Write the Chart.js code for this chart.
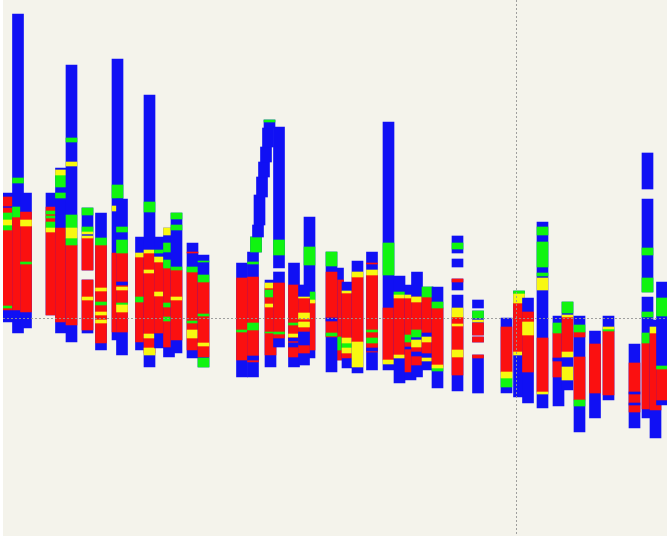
<!DOCTYPE html>
<html>
<head>
<meta charset="utf-8">
<script src="https://cdn.jsdelivr.net/npm/chart.js@4/dist/chart.umd.min.js"></script>
<style>
  html, body { margin: 0; padding: 0; background: #ffffff; }
  #wrap { position: absolute; left: 3px; top: 0; width: 664px; height: 536px; background: #f4f3eb; }
</style>
</head>
<body>
<div id="wrap"><canvas id="logChart"></canvas></div>
<script>
// column positions along the transect, in drawing order
const columnX = [8, 18, 26, 51.5, 61, 71.5, 87.5, 101, 117.5, 122, 141, 149.5, 160, 169, 176.5,
  192.5, 203.5, 242, 253, 256, 258, 259.5, 262, 264, 266, 268, 269.5, 270.5, 279, 294, 309.5,
  304, 338, 331.5, 347.5, 357.5, 372, 388.5, 399.5, 410.5, 417, 427.5, 437.5, 457.5, 478, 506.5,
  519, 528, 542.5, 558.5, 567.5, 579.5, 595, 608.5, 634.5, 647.5, 655.5, 662];

// [position, top depth, bottom depth]
const blueSpans = [
  [8,193,322],[18,14,333],[26,193,328],[51.5,193,315],[61,168,333],[71.5,65,342],
  [87.5,208,270],[87.5,280,333],[101,213,350],[117.5,59,340],[122,199,355],[141,237,350],
  [149.5,95,367],[160,237,348],[169,228,357],[176.5,213,353],[192.5,243,358],[203.5,255,367],
  [242,263,377],[253,252,377],[256,237,252],[258,225,237],[259.5,195,225],[262,177,197],
  [264,162,177],[266,147,162],[268,128,147],[269.5,120,128],[270.5,280,367],[279,127,268],
  [279,272,347],[294,263,367],[309.5,217,358],[304,285,365],[338,268,360],[331.5,252,372],
  [347.5,282,368],[357.5,261,373],[372,252,370],[388.5,122,370],[399.5,276,383],[410.5,285,380],
  [417,272,377],[427.5,287,370],[437.5,287,388],[457.5,236,253],[457.5,259,267],[457.5,279,290],
  [457.5,295,391],[478,300,308],[478,311,335],[478,337,342],[478,355,393],[506.5,318,393],
  [519,291,397],[528,298,403],[542.5,222,408],[558.5,316,406],[567.5,302,390],[579.5,316,432],
  [595,331,418],[608.5,316,400],[634.5,344,428],[647.5,153,189],[647.5,199,292],[647.5,297,418],
  [655.5,320,438],[662,282,405]
];

const redSpans = [
  [8,197,206],[8,208,310],[18,217,310],[26,212,312],[51.5,207,315],[61,228,322],[71.5,245,325],
  [87.5,238,270],[87.5,280,330],[101,245,343],[117.5,253,332],[122,253,332],[141,257,342],
  [149.5,253,353],[160,262,333],[169,268,347],[176.5,270,340],[192.5,252,253],[192.5,272,350],
  [203.5,282,357],[242,278,360],[253,277,362],[270.5,288,355],[279,283,338],[294,285,357],
  [309.5,303,350],[304,298,353],[338,280,360],[331.5,272,337],[347.5,293,358],[357.5,277,342],
  [372,263,264],[372,275,352],[388.5,308,360],[399.5,298,355],[410.5,298,372],[417,297,365],
  [427.5,297,353],[437.5,308,367],[457.5,279,282],[457.5,317,375],[478,323,335],[478,337,342],
  [478,355,358],[506.5,327,372],[519,303,352],[528,312,372],[542.5,338,392],[558.5,333,377],
  [567.5,317,352],[579.5,332,337],[579.5,357,400],[595,344,393],[608.5,331,395],[634.5,363,412],
  [647.5,343,409],[655.5,333,410],[662,369,400]
];

const blueBands = [
  [122,282,285],[253,356,360],[294,338,341],[294,343,347],[304,332,345],[331.5,318,321],
  [372,348,351],[410.5,347,349],[417,337,340],[417,352,356],[427.5,333,337],[558.5,358,361],
  [634.5,392,394],[634.5,403,405]
];

const greenBands = [
  [8,213,220],[8,224,230],[8,306,308],[18,178,183],[18,207,217],[26,262,264],[51.5,211,214],
  [51.5,216,218],[51.5,222,228],[61,175,187],[61,193,198],[71.5,138,142],[71.5,215,228],
  [71.5,238,245],[87.5,208,215],[87.5,227,232],[101,238,245],[101,302,305],[117.5,185,198],
  [122,227,232],[122,240,253],[122,303,305],[141,297,302],[149.5,202,212],[160,250,253],
  [169,243,252],[169,260,268],[169,303,307],[169,317,321],[176.5,213,219],[176.5,225,230],
  [176.5,267,270],[192.5,267,272],[192.5,321,323],[203.5,261,262],[203.5,275,282],[203.5,314,316],
  [203.5,358,367],[242,330,332],[253,262,264],[253,323,330],[256,237,252],[269.5,120,122],
  [270.5,290,297],[270.5,332,333],[279,240,255],[279,332,334],[294,323,325],[309.5,247,265],
  [309.5,292,300],[338,337,350],[331.5,252,266],[331.5,333,336],[347.5,343,348],[372,330,332],
  [372,338,343],[388.5,243,275],[399.5,292,295],[410.5,335,342],[417,330,337],[427.5,287,297],
  [437.5,302,308],[437.5,368,371],[457.5,243,249],[478,311,318],[506.5,378,387],[519,291,294],
  [542.5,227,235],[542.5,242,267],[542.5,273,276],[558.5,323,333],[567.5,302,313],[579.5,325,332],
  [579.5,400,406],[608.5,329,331],[647.5,248,255],[647.5,278,292],[647.5,312,317],[647.5,333,343],
  [662,298,316],[662,366,369]
];

const yellowBands = [
  [8,220,225],[26,220,226],[51.5,228,232],[61,170,175],[71.5,162,166],[71.5,228,238],
  [87.5,232,234],[87.5,236,238],[87.5,297,300],[101,288,291],[101,312,315],[101,320,323],
  [117.5,206,211],[122,287,290],[122,305,312],[141,253,257],[149.5,250,253],[149.5,270,273],
  [149.5,334,338],[149.5,348,355],[160,257,262],[160,292,296],[169,228,235],[176.5,297,300],
  [192.5,330,338],[203.5,343,346],[270.5,283,288],[270.5,304,307],[294,334,337],[304,297,298],
  [304,313,319],[304,322,327],[309.5,300,303],[347.5,291,293],[347.5,338,343],[347.5,348,353],
  [357.5,272,277],[357.5,342,367],[372,270,275],[388.5,360,364],[399.5,295,298],[399.5,355,358],
  [410.5,295,298],[417,297,302],[417,340,347],[427.5,337,342],[427.5,358,361],[437.5,365,368],
  [457.5,308,317],[457.5,324,326],[457.5,350,357],[478,320,322],[506.5,372,378],[519,294,303],
  [519,352,355],[528,322,335],[542.5,278,290],[542.5,392,394],[567.5,315,317],[567.5,352,357],
  [567.5,367,380],[608.5,327,329],[655.5,327,333]
];

// dotted reference lines
const refDepth = 318.5;
const refPos = 516.5;

const BLUE = "#1010f4";
const RED = "#fb1010";
const GREEN = "#10f410";
const YELLOW = "#f8f810";
const GUIDE = "rgba(150,150,150,0.9)";

const layers = [
  [blueSpans, BLUE],
  [redSpans, RED],
  [blueBands, BLUE],
  [greenBands, GREEN],
  [yellowBands, YELLOW],
];

const columnSets = columnX.map((x, i) => {
  const segs = [];
  layers.forEach(([list, color]) => {
    list.filter((s) => s[0] === x).forEach((s) => segs.push({ y: [s[1], s[2]], color }));
  });
  return {
    type: "bar",
    data: segs.map((s) => ({ x: x, y: s.y })),
    backgroundColor: segs.map((s) => s.color),
    order: columnX.length - i + 1,
  };
});

const guideStyle = {
  type: "line",
  borderColor: GUIDE,
  borderWidth: 1,
  borderDash: [2, 2],
  pointRadius: 0,
  fill: false,
  order: 0,
};

new Chart(document.getElementById("logChart"), {
  type: "bar",
  data: {
    datasets: [
      ...columnSets,
      { ...guideStyle, data: [{ x: 3, y: refDepth }, { x: 667, y: refDepth }] },
      { ...guideStyle, data: [{ x: refPos, y: 0 }, { x: refPos, y: 536 }] },
    ],
  },
  options: {
    responsive: true,
    maintainAspectRatio: false,
    animation: false,
    events: [],
    layout: { padding: 0 },
    datasets: {
      bar: { barThickness: 11, grouped: false, borderWidth: 0 },
    },
    plugins: {
      legend: { display: false },
      tooltip: { enabled: false },
    },
    scales: {
      x: { type: "linear", min: 3, max: 667, offset: false, display: false },
      y: { type: "linear", reverse: true, min: 0, max: 536, display: false },
    },
  },
});
</script>
</body>
</html>
